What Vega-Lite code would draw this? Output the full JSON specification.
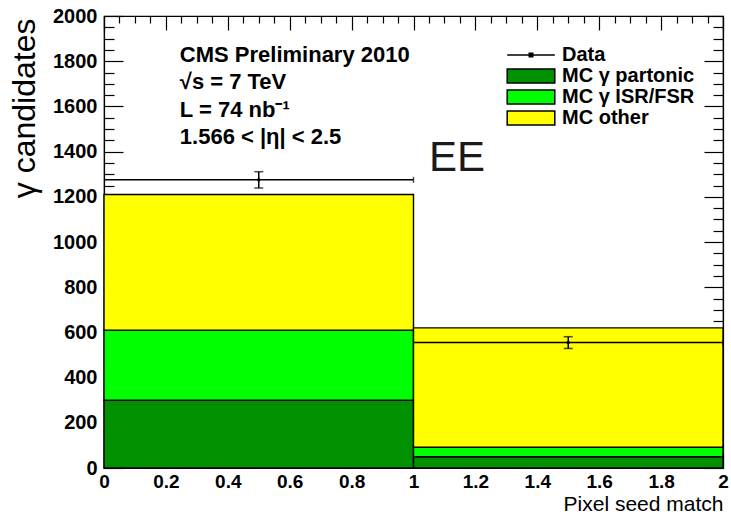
{
  "$schema": "https://vega.github.io/schema/vega-lite/v6.json",
  "width": 619,
  "height": 452,
  "autosize": {"type": "none"},
  "padding": {"left": 104, "top": 16, "right": 8, "bottom": 49},
  "background": "white",
  "config": {"view": {"stroke": "black", "strokeWidth": 1.2}, "font": "Liberation Sans"},
  "datasets": {
    "hist": [
      {"bin0": 0, "bin1": 1, "series": "MC γ partonic", "n": 300, "order": 1},
      {"bin0": 0, "bin1": 1, "series": "MC γ ISR/FSR", "n": 310, "order": 2},
      {"bin0": 0, "bin1": 1, "series": "MC other", "n": 600, "order": 3},
      {"bin0": 1, "bin1": 2, "series": "MC γ partonic", "n": 50, "order": 1},
      {"bin0": 1, "bin1": 2, "series": "MC γ ISR/FSR", "n": 42, "order": 2},
      {"bin0": 1, "bin1": 2, "series": "MC other", "n": 528, "order": 3}
    ],
    "obs": [
      {"series": "Data", "xc": 0.5, "lo": 0, "hi": 1, "y": 1275, "ylo": 1239, "yhi": 1311},
      {"series": "Data", "xc": 1.5, "lo": 1, "hi": 2, "y": 555, "ylo": 529, "yhi": 581}
    ],
    "notes": [
      {"tx": 0.245, "ty": 1828, "label": "CMS Preliminary 2010"},
      {"tx": 0.245, "ty": 1709, "label": "√s = 7 TeV"},
      {"tx": 0.245, "ty": 1584, "label": "L = 74 nb⁻¹"},
      {"tx": 0.245, "ty": 1465, "label": "1.566 < |η| < 2.5"}
    ],
    "region": [
      {"tx": 1.05, "ty": 1372, "label": "EE"}
    ]
  },
  "layer": [
    {
      "data": {"name": "hist"},
      "transform": [
        {"stack": "n", "groupby": ["bin0"], "sort": [{"field": "order", "order": "ascending"}], "as": ["s0", "s1"]}
      ],
      "mark": {"type": "rect", "stroke": "black", "strokeWidth": 1.4},
      "encoding": {
        "x": {
          "field": "bin0", "type": "quantitative",
          "scale": {"domain": [0, 2], "nice": false, "zero": false},
          "axis": {
            "orient": "bottom",
            "values": [0,0.05,0.1,0.15,0.2,0.25,0.3,0.35,0.4,0.45,0.5,0.55,0.6,0.65,0.7,0.75,0.8,0.85,0.9,0.95,1,1.05,1.1,1.15,1.2,1.25,1.3,1.35,1.4,1.45,1.5,1.55,1.6,1.65,1.7,1.75,1.8,1.85,1.9,1.95,2],
            "tickSize": -14,
            "tickColor": "black",
            "tickWidth": 1.2,
            "tickDash": {"condition": {"test": "abs(datum.value*5-round(datum.value*5))<0.001", "value": [20, 0]}, "value": [7, 20]},
            "labelExpr": "abs(datum.value*5-round(datum.value*5))<0.001 ? format(datum.value,'.1~f') : ''",
            "labelOverlap": false,
            "labelFlush": false,
            "labelFont": "Liberation Sans",
            "labelFontWeight": "bold",
            "labelFontSize": 19,
            "labelColor": "black",
            "labelPadding": 18,
            "domainColor": "black",
            "domainWidth": 1.2,
            "grid": false,
            "title": "Pixel seed match",
            "titleFont": "Liberation Sans",
            "titleFontWeight": "normal",
            "titleFontSize": 21,
            "titleColor": "black",
            "titleAlign": "right",
            "titleAnchor": "end",
            "titleX": 619,
            "titleY": 42,
            "titleBaseline": "alphabetic"
          }
        },
        "x2": {"field": "bin1"},
        "y": {
          "field": "s0", "type": "quantitative",
          "scale": {"domain": [0, 2000], "nice": false},
          "axis": {
            "orient": "left",
            "values": [0,50,100,150,200,250,300,350,400,450,500,550,600,650,700,750,800,850,900,950,1000,1050,1100,1150,1200,1250,1300,1350,1400,1450,1500,1550,1600,1650,1700,1750,1800,1850,1900,1950,2000],
            "tickSize": -19,
            "tickColor": "black",
            "tickWidth": 1.2,
            "tickDash": {"condition": {"test": "datum.value % 200 === 0", "value": [25, 0]}, "value": [10, 30]},
            "labelExpr": "datum.value % 200 === 0 ? '' + datum.value : ''",
            "labelOverlap": false,
            "labelFlush": false,
            "labelFont": "Liberation Sans",
            "labelFontWeight": "bold",
            "labelFontSize": 20,
            "labelColor": "black",
            "labelPadding": 26,
            "domainColor": "black",
            "domainWidth": 1.2,
            "grid": false,
            "title": "γ candidates",
            "titleFont": "Liberation Sans",
            "titleFontWeight": "normal",
            "titleFontSize": 32,
            "titleColor": "black",
            "titleAngle": -90,
            "titleAlign": "right",
            "titleAnchor": "end",
            "titleX": -70,
            "titleY": 2,
            "titleBaseline": "alphabetic"
          }
        },
        "y2": {"field": "s1"},
        "color": {
          "field": "series", "type": "nominal",
          "scale": {"domain": ["Data", "MC γ partonic", "MC γ ISR/FSR", "MC other"], "range": ["black", "#009000", "#00ff00", "#ffff00"]},
          "legend": {
            "orient": "none",
            "legendX": 417,
            "legendY": 29,
            "title": null,
            "padding": 0,
            "symbolType": "M-3.4,-1H3.4V1H-3.4Z",
            "symbolSize": 196,
            "symbolStrokeColor": "black",
            "symbolStrokeWidth": 1.5,
            "symbolOpacity": 1,
            "labelFont": "Liberation Sans",
            "labelFontWeight": "bold",
            "labelFontSize": 20,
            "labelColor": "black",
            "labelOffset": 21,
            "rowPadding": 1,
            "encode": {
              "symbols": {
                "update": {
                  "shape": {"signal": "datum.label === 'Data' ? 'M-3.4,0H3.4M-0.25,-0.25H0.25V0.25H-0.25Z' : 'M-3.4,-1H3.4V1H-3.4Z'"},
                  "stroke": {"value": "black"}
                }
              }
            }
          }
        }
      }
    },
    {
      "data": {"name": "obs"},
      "mark": {"type": "rule", "color": "black", "strokeWidth": 1.5},
      "encoding": {
        "x": {
          "field": "lo", "type": "quantitative",
          "axis": {
            "orient": "top",
            "values": [0,0.05,0.1,0.15,0.2,0.25,0.3,0.35,0.4,0.45,0.5,0.55,0.6,0.65,0.7,0.75,0.8,0.85,0.9,0.95,1,1.05,1.1,1.15,1.2,1.25,1.3,1.35,1.4,1.45,1.5,1.55,1.6,1.65,1.7,1.75,1.8,1.85,1.9,1.95,2],
            "tickSize": -14,
            "tickColor": "black",
            "tickWidth": 1.2,
            "tickDash": {"condition": {"test": "abs(datum.value*5-round(datum.value*5))<0.001", "value": [20, 0]}, "value": [7, 20]},
            "labels": false,
            "domainColor": "black",
            "domainWidth": 1.2,
            "grid": false,
            "title": null
          }
        },
        "x2": {"field": "hi"},
        "y": {
          "field": "y", "type": "quantitative",
          "axis": {
            "orient": "right",
            "values": [0,50,100,150,200,250,300,350,400,450,500,550,600,650,700,750,800,850,900,950,1000,1050,1100,1150,1200,1250,1300,1350,1400,1450,1500,1550,1600,1650,1700,1750,1800,1850,1900,1950,2000],
            "tickSize": -19,
            "tickColor": "black",
            "tickWidth": 1.2,
            "tickDash": {"condition": {"test": "datum.value % 200 === 0", "value": [25, 0]}, "value": [10, 30]},
            "labels": false,
            "domainColor": "black",
            "domainWidth": 1.2,
            "grid": false,
            "title": null
          }
        }
      }
    },
    {
      "data": {"name": "obs"},
      "mark": {"type": "rule", "color": "black", "strokeWidth": 1.5},
      "encoding": {
        "x": {"field": "xc", "type": "quantitative", "axis": null},
        "y": {"field": "ylo", "type": "quantitative", "axis": null},
        "y2": {"field": "yhi"}
      }
    },
    {
      "data": {"name": "obs"},
      "mark": {"type": "tick", "orient": "horizontal", "color": "black", "size": 9, "thickness": 1.5},
      "encoding": {
        "x": {"field": "xc", "type": "quantitative", "axis": null},
        "y": {"field": "ylo", "type": "quantitative", "axis": null}
      }
    },
    {
      "data": {"name": "obs"},
      "mark": {"type": "tick", "orient": "horizontal", "color": "black", "size": 9, "thickness": 1.5},
      "encoding": {
        "x": {"field": "xc", "type": "quantitative", "axis": null},
        "y": {"field": "yhi", "type": "quantitative", "axis": null}
      }
    },
    {
      "data": {"name": "obs"},
      "mark": {"type": "tick", "orient": "vertical", "color": "black", "size": 6, "thickness": 1.5},
      "encoding": {
        "x": {"field": "hi", "type": "quantitative", "axis": null},
        "y": {"field": "y", "type": "quantitative", "axis": null}
      }
    },
    {
      "data": {"name": "obs"},
      "mark": {"type": "point", "filled": true, "size": 12, "opacity": 1},
      "encoding": {
        "x": {"field": "xc", "type": "quantitative", "axis": null},
        "y": {"field": "y", "type": "quantitative", "axis": null},
        "color": {"field": "series", "type": "nominal"}
      }
    },
    {
      "data": {"name": "notes"},
      "mark": {"type": "text", "font": "Liberation Sans", "fontWeight": "bold", "fontSize": 22, "align": "left", "baseline": "middle", "color": "black"},
      "encoding": {
        "x": {"field": "tx", "type": "quantitative", "axis": null},
        "y": {"field": "ty", "type": "quantitative", "axis": null},
        "text": {"field": "label"}
      }
    },
    {
      "data": {"name": "region"},
      "mark": {"type": "text", "font": "Liberation Sans", "fontWeight": "normal", "fontSize": 42, "align": "left", "baseline": "middle", "color": "#1a1a1a"},
      "encoding": {
        "x": {"field": "tx", "type": "quantitative", "axis": null},
        "y": {"field": "ty", "type": "quantitative", "axis": null},
        "text": {"field": "label"}
      }
    }
  ],
  "resolve": {"axis": {"x": "independent", "y": "independent"}}
}
